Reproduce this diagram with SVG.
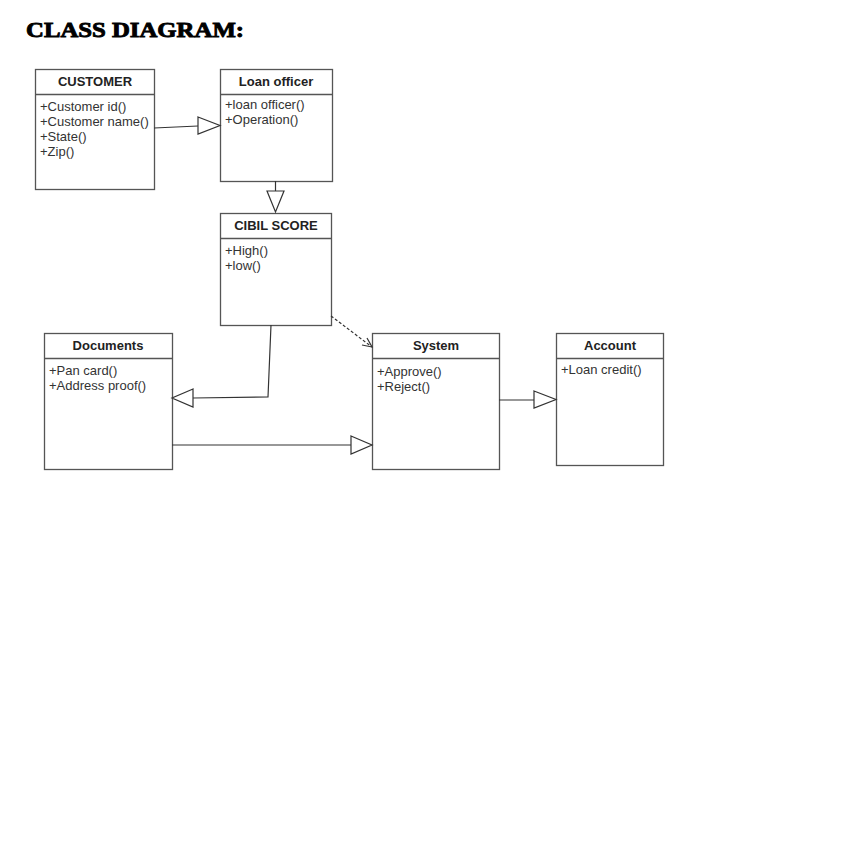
<svg xmlns="http://www.w3.org/2000/svg" width="864" height="864" viewBox="0 0 864 864">
<style>
.box{fill:#fff;stroke:#555;stroke-width:1.3}
.div{stroke:#555;stroke-width:1.3}
.name{font-family:"Liberation Sans",Arial,sans-serif;font-size:13px;font-weight:bold;fill:#222;text-anchor:middle}
.m{font-family:"Liberation Sans",Arial,sans-serif;font-size:13px;fill:#333}
.ln{fill:none;stroke:#333;stroke-width:1.2}
.tri{fill:#fff;stroke:#333;stroke-width:1.2}
.title{font-family:"Liberation Serif","Times New Roman",serif;font-size:22px;font-weight:bold;fill:#000;stroke:#000;stroke-width:0.9}
</style>
<rect width="864" height="864" fill="#fff"/>
<text class="title" x="26" y="37" textLength="218" lengthAdjust="spacingAndGlyphs">CLASS DIAGRAM:</text>

<g id="customer">
<rect class="box" x="35.5" y="69.5" width="119" height="120"/>
<line class="div" x1="35.5" y1="94.5" x2="154.5" y2="94.5"/>
<text class="name" x="95" y="86">CUSTOMER</text>
<text class="m" x="40" y="111">+Customer id()</text>
<text class="m" x="40" y="126">+Customer name()</text>
<text class="m" x="40" y="141">+State()</text>
<text class="m" x="40" y="156">+Zip()</text>
</g>

<g id="loan-officer">
<rect class="box" x="220.5" y="69.5" width="112" height="112"/>
<line class="div" x1="220.5" y1="94.5" x2="332.5" y2="94.5"/>
<text class="name" x="276" y="86">Loan officer</text>
<text class="m" x="225" y="109">+loan officer()</text>
<text class="m" x="225" y="124">+Operation()</text>
</g>

<g id="cibil-score">
<rect class="box" x="220.5" y="213.5" width="111" height="112"/>
<line class="div" x1="220.5" y1="238.5" x2="331.5" y2="238.5"/>
<text class="name" x="276" y="230">CIBIL SCORE</text>
<text class="m" x="225" y="255">+High()</text>
<text class="m" x="225" y="270">+low()</text>
</g>

<g id="documents">
<rect class="box" x="44.5" y="333.5" width="128" height="136"/>
<line class="div" x1="44.5" y1="358.5" x2="172.5" y2="358.5"/>
<text class="name" x="108" y="350">Documents</text>
<text class="m" x="49" y="375">+Pan card()</text>
<text class="m" x="49" y="390">+Address proof()</text>
</g>

<g id="system">
<rect class="box" x="372.5" y="333.5" width="127" height="136"/>
<line class="div" x1="372.5" y1="358.5" x2="499.5" y2="358.5"/>
<text class="name" x="436" y="350">System</text>
<text class="m" x="377" y="376">+Approve()</text>
<text class="m" x="377" y="391">+Reject()</text>
</g>

<g id="account">
<rect class="box" x="556.5" y="333.5" width="107" height="132"/>
<line class="div" x1="556.5" y1="358.5" x2="663.5" y2="358.5"/>
<text class="name" x="610" y="350">Account</text>
<text class="m" x="561" y="374">+Loan credit()</text>
</g>

<g id="connectors">
<path class="ln" d="M154,128 L198,126"/>
<path class="tri" d="M198,117 L220,125.5 L198,134 Z"/>
<path class="ln" d="M275.5,181 L275.5,191"/>
<path class="tri" d="M267,191 L284,191 L275.5,212 Z"/>
<path class="ln" d="M271,325 L268,397 L193,398"/>
<path class="tri" d="M193,389 L172,398 L193,407 Z"/>
<path class="ln" d="M331,316 L372,347" stroke-dasharray="3,2" stroke-width="0.9"/>
<path class="ln" d="M362,345 L372,347 L367,338" stroke-width="0.9"/>
<path class="ln" d="M172,445 L351,445"/>
<path class="tri" d="M351,436 L372,445 L351,454 Z"/>
<path class="ln" d="M499,400 L534,400"/>
<path class="tri" d="M534,391 L556,399.5 L534,408 Z"/>
</g>
</svg>
